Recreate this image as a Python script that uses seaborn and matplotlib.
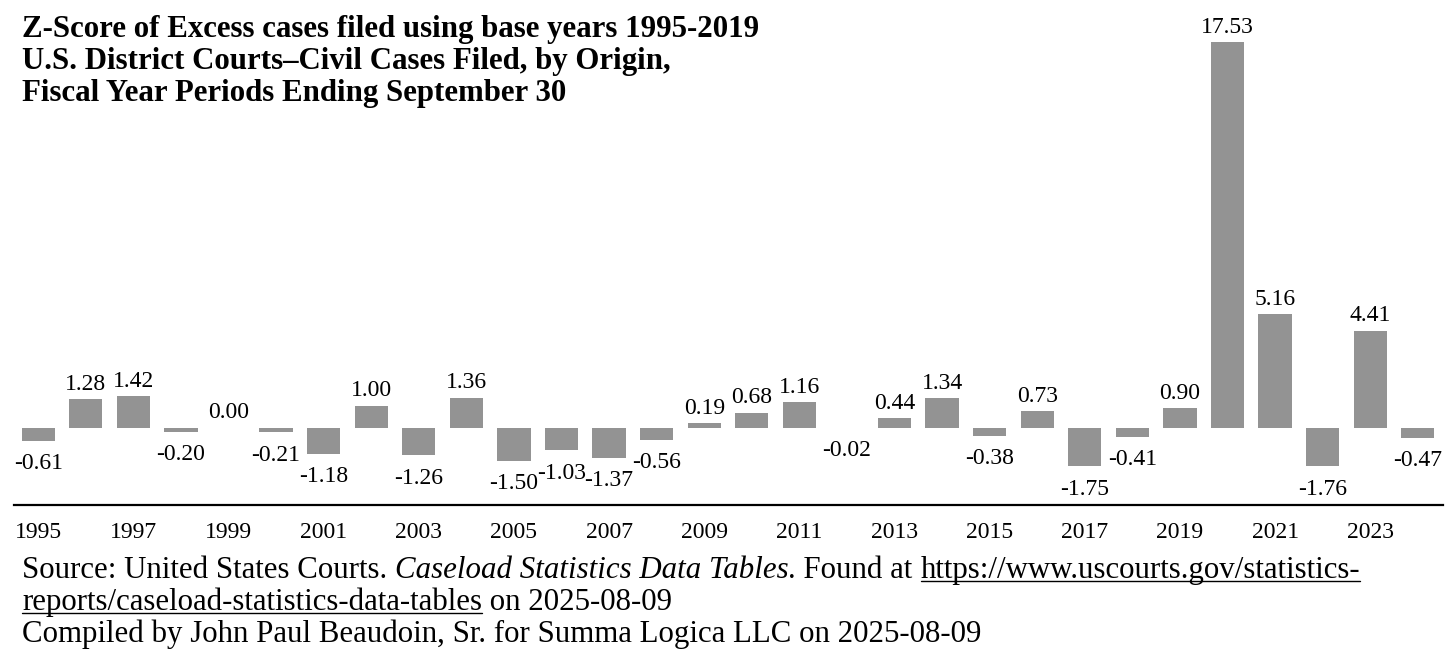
import matplotlib
matplotlib.use("Agg")
import matplotlib.pyplot as plt
from matplotlib.lines import Line2D
import seaborn as sns

# Z-scores, fiscal years 1995-2024
years = [str(y) for y in range(1995, 2025)]
zscores = [-0.61, 1.28, 1.42, -0.20, 0.00, -0.21, -1.18, 1.00, -1.26, 1.36,
           -1.50, -1.03, -1.37, -0.56, 0.19, 0.68, 1.16, -0.02, 0.44, 1.34,
           -0.38, 0.73, -1.75, -0.41, 0.90, 17.53, 5.16, -1.76, 4.41, -0.47]
tick_years = years[::2]

title_lines = [
    "Z-Score of Excess cases filed using base years 1995-2019",
    "U.S. District Courts\u2013Civil Cases Filed, by Origin,",
    "Fiscal Year Periods Ending September 30",
]

# (text, style) pieces for the source note
source_lines = [
    [("Source: United States Courts. ", "n"),
     ("Caseload Statistics Data Tables", "i"),
     (". Found at ", "n"),
     ("https://www.uscourts.gov/statistics-", "u")],
    [("reports/caseload-statistics-data-tables", "u"),
     (" on 2025-08-09", "n")],
    [("Compiled by John Paul Beaudoin, Sr. for Summa Logica LLC on 2025-08-09", "n")],
]

sns.set_style("white")
plt.rcParams["font.family"] = ["Liberation Serif", "DejaVu Serif"]
plt.rcParams["text.color"] = "black"
plt.rcParams["xtick.color"] = "black"

W, H = 1456, 670
fig = plt.figure(figsize=(W / 100, H / 100), dpi=100)
ax = fig.add_axes([14 / W, 1 - 505 / H, 1429 / W, 505 / H])

sns.barplot(x=years, y=zscores, color="#939393", saturation=1, width=0.7,
            linewidth=0, ax=ax)

# value labels
lab_size = 17
for i, v in enumerate(zscores):
    if v >= 0:
        ax.annotate(f"{v:.2f}", (i, v), xytext=(0, 3), textcoords="offset points",
                    ha="center", va="bottom", fontsize=lab_size)
    else:
        ax.annotate(f"{v:.2f}", (i, v), xytext=(0, -9), textcoords="offset points",
                    ha="center", va="top", fontsize=lab_size)

ax.set_xlim(-0.51, 29.53)
ax.set_ylim(-3.52, 19.43)
ax.set_xticks(range(0, 30, 2))
ax.set_xticklabels(tick_years, fontsize=17)
ax.tick_params(axis="x", length=0, pad=12)
ax.set_yticks([])
ax.set_xlabel("")
ax.set_ylabel("")
for side in ["top", "left", "right"]:
    ax.spines[side].set_visible(False)
ax.spines["bottom"].set_color("black")
ax.spines["bottom"].set_linewidth(1.6)

# title, bold, top left
for k, line in enumerate(title_lines):
    fig.text(22 / W, 1 - (37 + 32 * k) / H, line, fontsize=22.2, fontweight="bold",
             ha="left", va="baseline")

# source note with italic and underlined parts
renderer = fig.canvas.get_renderer()


def advance(s, style, size):
    kw = {"fontsize": size}
    if style == "i":
        kw["fontstyle"] = "italic"
    t1 = fig.text(0, 0, s + "|", **kw)
    t2 = fig.text(0, 0, "|", **kw)
    w = t1.get_window_extent(renderer).width - t2.get_window_extent(renderer).width
    t1.remove()
    t2.remove()
    return w


src_size = 22.2
for k, pieces in enumerate(source_lines):
    x_px = 22
    y_px = 578 + 32 * k
    for s, style in pieces:
        kw = {"fontsize": src_size}
        if style == "i":
            kw["fontstyle"] = "italic"
        fig.text(x_px / W, 1 - y_px / H, s, ha="left", va="baseline", **kw)
        w = advance(s, style, src_size)
        if style == "u":
            uy = 1 - (y_px + 3) / H
            fig.add_artist(Line2D([x_px / W, (x_px + w) / W], [uy, uy],
                                  color="black", linewidth=1.0))
        x_px += w

fig.savefig("out.png", dpi=100)
